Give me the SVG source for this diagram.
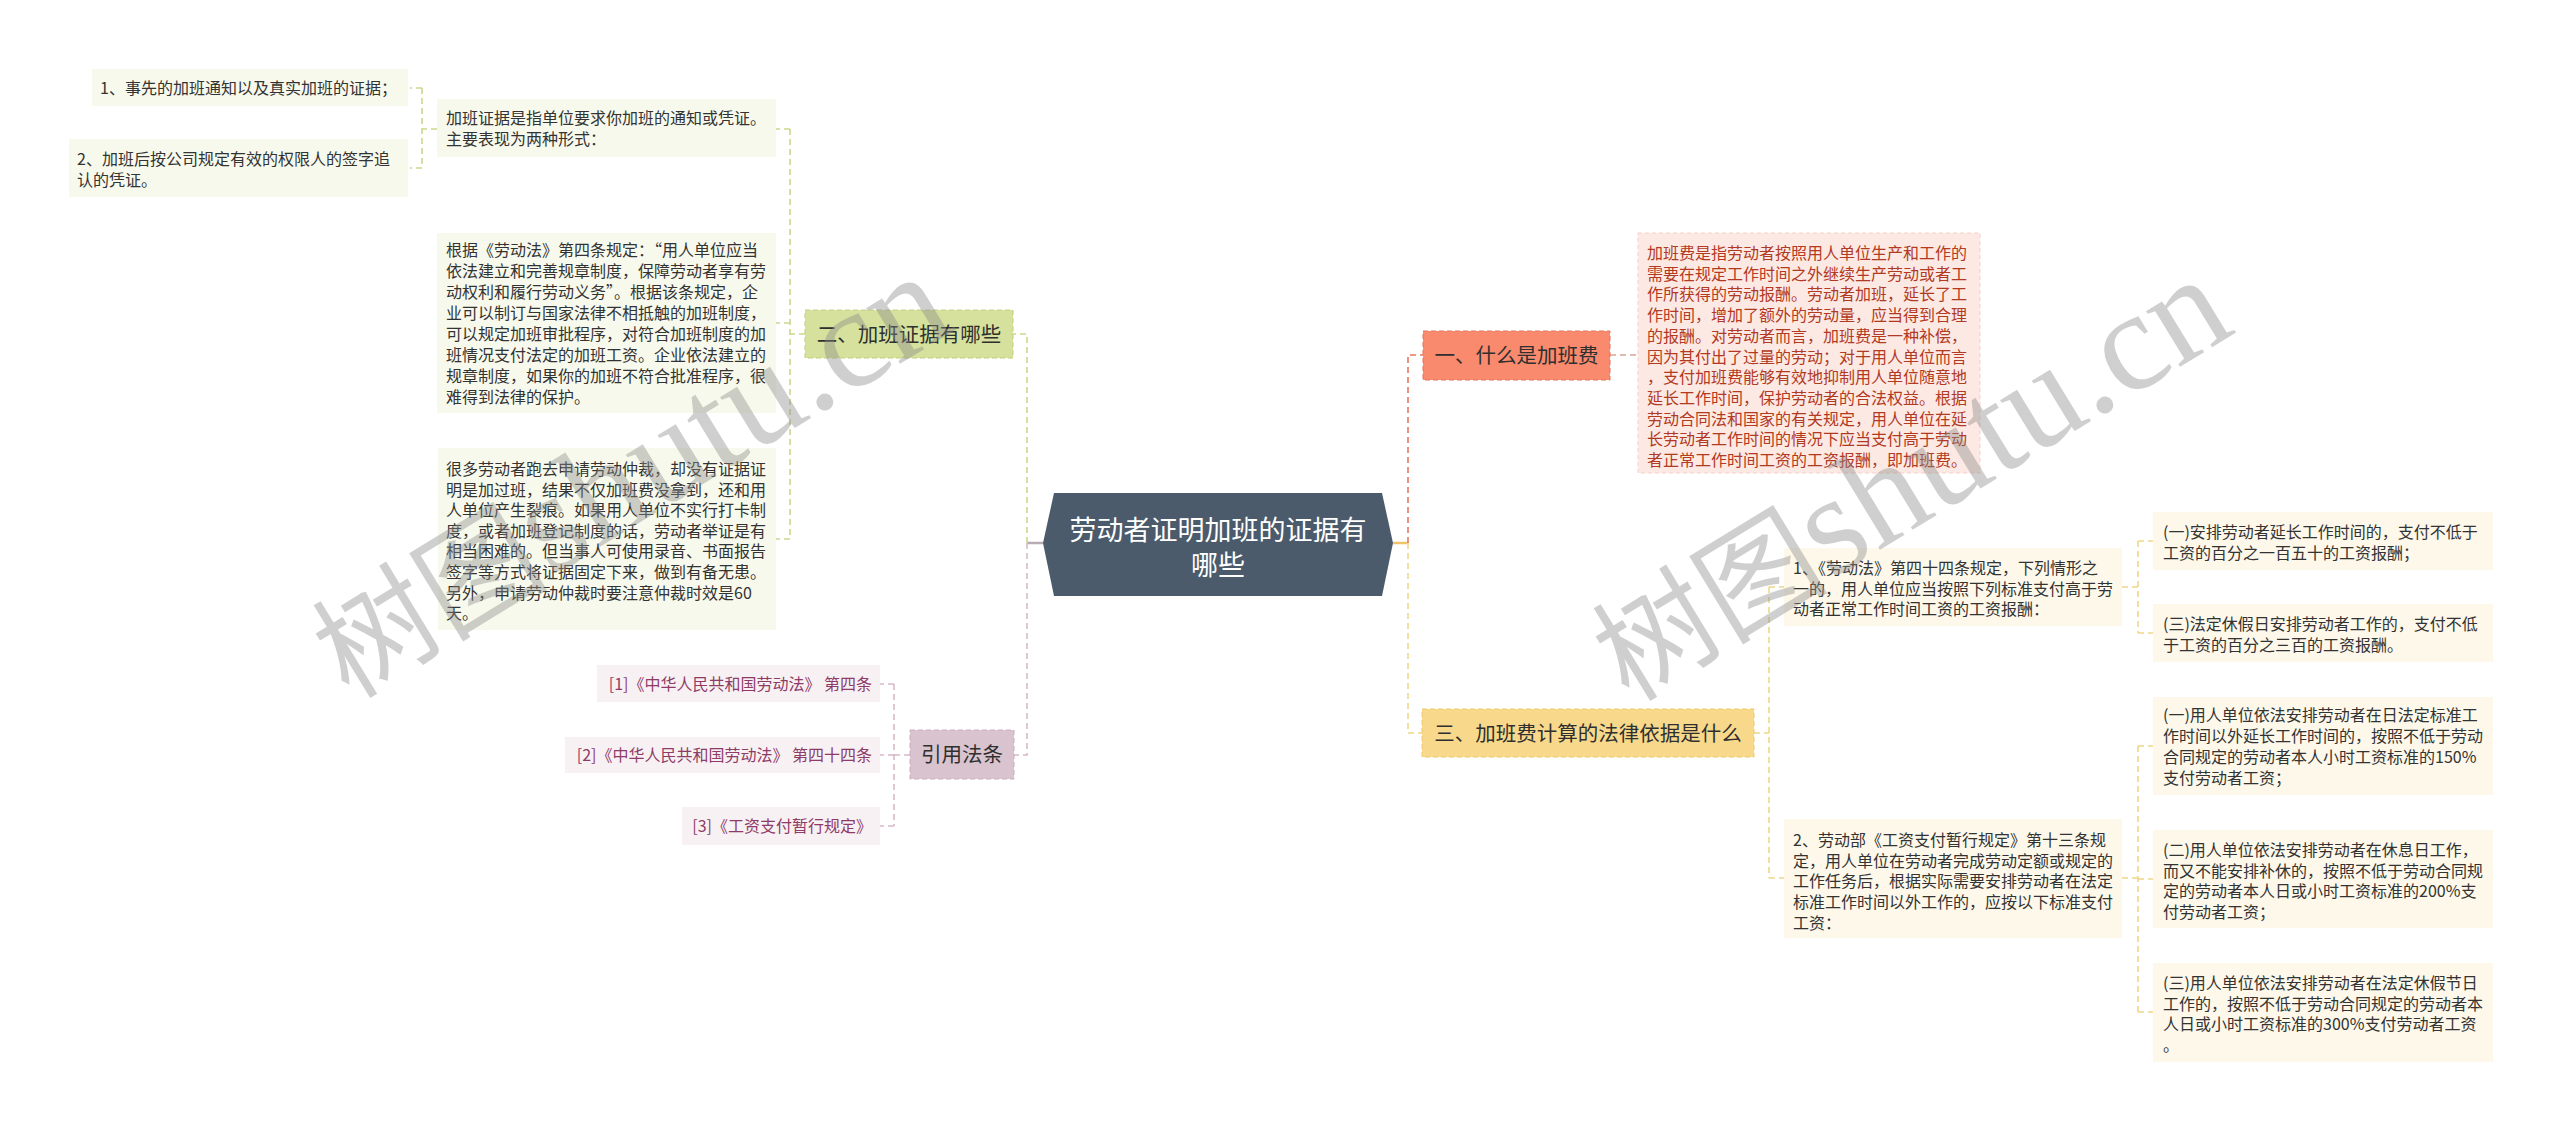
<svg xmlns="http://www.w3.org/2000/svg" width="2560" height="1131" viewBox="0 0 2560 1131">
<style>
.t{font-family:"Noto Sans CJK SC","Liberation Sans",sans-serif;font-size:16px;fill:#333333}
.lab{font-family:"Noto Sans CJK SC","Liberation Sans",sans-serif;font-size:20.5px;fill:#2f2f2f;text-anchor:middle}
.title{font-family:"Noto Sans CJK SC","Liberation Sans",sans-serif;font-size:27px;fill:#ffffff;text-anchor:middle}
.red{fill:#b23a22}
.ref{fill:#8e3b67;text-anchor:end}
.leafL{fill:#f7f9ec}
.leafR{fill:#fdf8ea}
.leafRef{fill:#f8f1f4}
.c{fill:none;stroke-width:1.6;stroke-dasharray:6 4}
.cg{stroke:#c9d98c}
.cp{stroke:#d8b9c9}
.cy{stroke:#eed889}
.cr{stroke:#e9775e}
.wm{font-family:"Noto Sans CJK SC",sans-serif;fill:#8a8a8a;opacity:0.4}
</style>

<g id="connectors">
  <path d="M1043,543 H1027" fill="none" stroke="#b8abb3" stroke-width="2.5"/>
  <path class="c cg" stroke-width="2" d="M1027,543 V334 H1013"/>
  <path class="c cp" stroke-width="2" d="M1027,543 V755 H1014"/>
  <path class="c cg" d="M805,334 H790 M790,129 V539 M790,129 H776 M790,323 H776 M790,539 H776"/>
  <path class="c cg" d="M437,129 H422 M422,88 V168 M422,88 H410 M422,168 H410"/>
  <path class="c cp" d="M910,755 H894 M894,684 V826 M894,684 H880 M894,755 H880 M894,826 H880"/>
  <path d="M1393,543 H1408" fill="none" stroke="#f0c36a" stroke-width="2.5"/>
  <path class="c cr" stroke-width="2" d="M1408,543 V355 H1423"/>
  <path class="c cy" stroke-width="2" d="M1408,543 V733 H1422"/>
  <path class="c" stroke="#d9a595" d="M1610,355 H1638"/>
  <path class="c cy" d="M1754,733 H1769 M1769,587 V878 M1769,587 H1784 M1769,878 H1784"/>
  <path class="c cy" d="M2122,587 H2138 M2138,541 V633 M2138,541 H2153 M2138,633 H2153"/>
  <path class="c cy" d="M2122,878 H2138 M2138,746 V1012 M2138,746 H2153 M2138,879 H2153 M2138,1012 H2153"/>
</g>

<g id="root">
  <polygon points="1043,543 1054,493 1382,493 1393,543 1382,596 1054,596" fill="#4b5b6b"/>
  <text class="title" x="1218" y="540">劳动者证明加班的证据有</text>
  <text class="title" x="1218" y="575">哪些</text>
</g>

<g id="branch-2">
  <rect x="805" y="310" width="208" height="48" fill="#d5e19c" stroke="#bfd17c" stroke-dasharray="5 3"/>
  <text class="lab" x="909" y="341.5">二、加班证据有哪些</text>
</g>
<g id="leaf-2-1">
  <rect class="leafL" x="437" y="99" width="339" height="58"/>
  <text class="t" x="446"><tspan x="446" y="124">加班证据是指单位要求你加班的通知或凭证。</tspan><tspan x="446" y="145">主要表现为两种形式：</tspan></text>
</g>
<g id="leaf-2-1-1">
  <rect class="leafL" x="92" y="69" width="316" height="37"/>
  <text class="t" x="100" y="93.5">1、事先的加班通知以及真实加班的证据；</text>
</g>
<g id="leaf-2-1-2">
  <rect class="leafL" x="69" y="139" width="339" height="58"/>
  <text class="t"><tspan x="77" y="165">2、加班后按公司规定有效的权限人的签字追</tspan><tspan x="77" y="186">认的凭证。</tspan></text>
</g>
<g id="leaf-2-2">
  <rect class="leafL" x="437" y="233" width="339" height="180"/>
  <text class="t"><tspan x="446" y="256">根据《劳动法》第四条规定：“用人单位应当</tspan><tspan x="446" y="277">依法建立和完善规章制度，保障劳动者享有劳</tspan><tspan x="446" y="298">动权利和履行劳动义务”。根据该条规定，企</tspan><tspan x="446" y="319">业可以制订与国家法律不相抵触的加班制度，</tspan><tspan x="446" y="340">可以规定加班审批程序，对符合加班制度的加</tspan><tspan x="446" y="361">班情况支付法定的加班工资。企业依法建立的</tspan><tspan x="446" y="382">规章制度，如果你的加班不符合批准程序，很</tspan><tspan x="446" y="403">难得到法律的保护。</tspan></text>
</g>
<g id="leaf-2-3">
  <rect class="leafL" x="438" y="448" width="338" height="182"/>
  <text class="t"><tspan x="446" y="475">很多劳动者跑去申请劳动仲裁，却没有证据证</tspan><tspan x="446" y="495.6">明是加过班，结果不仅加班费没拿到，还和用</tspan><tspan x="446" y="516.2">人单位产生裂痕。如果用人单位不实行打卡制</tspan><tspan x="446" y="536.8">度，或者加班登记制度的话，劳动者举证是有</tspan><tspan x="446" y="557.4">相当困难的。但当事人可使用录音、书面报告</tspan><tspan x="446" y="578">签字等方式将证据固定下来，做到有备无患。</tspan><tspan x="446" y="598.6">另外，申请劳动仲裁时要注意仲裁时效是60</tspan><tspan x="446" y="619.2">天。</tspan></text>
</g>

<g id="branch-ref">
  <rect x="910" y="730" width="104" height="49" fill="#d9c3cf" stroke="#c9adbd" stroke-dasharray="5 3"/>
  <text class="lab" x="962" y="762">引用法条</text>
</g>
<g id="ref-1">
  <rect class="leafRef" x="597" y="665" width="283" height="37"/>
  <text class="t ref" x="872" y="689.5">[1]《中华人民共和国劳动法》 第四条</text>
</g>
<g id="ref-2">
  <rect class="leafRef" x="565" y="737" width="315" height="36"/>
  <text class="t ref" x="872" y="761">[2]《中华人民共和国劳动法》 第四十四条</text>
</g>
<g id="ref-3">
  <rect class="leafRef" x="682" y="807" width="198" height="38"/>
  <text class="t ref" x="872" y="832">[3]《工资支付暂行规定》</text>
</g>

<g id="branch-1">
  <rect x="1423" y="331" width="187" height="49" fill="#f98a6e" stroke="#e8735a" stroke-dasharray="5 3"/>
  <text class="lab" x="1516.5" y="363">一、什么是加班费</text>
</g>
<g id="leaf-1-1">
  <rect x="1638" y="233" width="342" height="240" fill="#fde9e4" stroke="#f5cfc5" stroke-dasharray="4 3"/>
  <text class="t red"><tspan x="1647" y="259">加班费是指劳动者按照用人单位生产和工作的</tspan><tspan x="1647" y="279.7">需要在规定工作时间之外继续生产劳动或者工</tspan><tspan x="1647" y="300.4">作所获得的劳动报酬。劳动者加班，延长了工</tspan><tspan x="1647" y="321.1">作时间，增加了额外的劳动量，应当得到合理</tspan><tspan x="1647" y="341.8">的报酬。对劳动者而言，加班费是一种补偿，</tspan><tspan x="1647" y="362.5">因为其付出了过量的劳动；对于用人单位而言</tspan><tspan x="1647" y="383.2">，支付加班费能够有效地抑制用人单位随意地</tspan><tspan x="1647" y="403.9">延长工作时间，保护劳动者的合法权益。根据</tspan><tspan x="1647" y="424.6">劳动合同法和国家的有关规定，用人单位在延</tspan><tspan x="1647" y="445.3">长劳动者工作时间的情况下应当支付高于劳动</tspan><tspan x="1647" y="466">者正常工作时间工资的工资报酬，即加班费。</tspan></text>
</g>

<g id="branch-3">
  <rect x="1422" y="709" width="332" height="48" fill="#f8d98b" stroke="#efc866" stroke-dasharray="5 3"/>
  <text class="lab" x="1588" y="740.5">三、加班费计算的法律依据是什么</text>
</g>
<g id="leaf-3-1">
  <rect class="leafR" x="1784" y="548" width="338" height="78"/>
  <text class="t"><tspan x="1793" y="574">1、《劳动法》第四十四条规定，下列情形之</tspan><tspan x="1793" y="594.7">一的，用人单位应当按照下列标准支付高于劳</tspan><tspan x="1793" y="615.4">动者正常工作时间工资的工资报酬：</tspan></text>
</g>
<g id="leaf-3-1-1">
  <rect class="leafR" x="2153" y="512" width="340" height="58"/>
  <text class="t"><tspan x="2163" y="538">(一)安排劳动者延长工作时间的，支付不低于</tspan><tspan x="2163" y="559">工资的百分之一百五十的工资报酬；</tspan></text>
</g>
<g id="leaf-3-1-2">
  <rect class="leafR" x="2153" y="604" width="340" height="58"/>
  <text class="t"><tspan x="2163" y="630">(三)法定休假日安排劳动者工作的，支付不低</tspan><tspan x="2163" y="651">于工资的百分之三百的工资报酬。</tspan></text>
</g>
<g id="leaf-3-2">
  <rect class="leafR" x="1784" y="819" width="338" height="119"/>
  <text class="t"><tspan x="1793" y="846">2、劳动部《工资支付暂行规定》第十三条规</tspan><tspan x="1793" y="866.7">定，用人单位在劳动者完成劳动定额或规定的</tspan><tspan x="1793" y="887.4">工作任务后，根据实际需要安排劳动者在法定</tspan><tspan x="1793" y="908.1">标准工作时间以外工作的，应按以下标准支付</tspan><tspan x="1793" y="928.8">工资：</tspan></text>
</g>
<g id="leaf-3-2-1">
  <rect class="leafR" x="2153" y="697" width="340" height="98"/>
  <text class="t"><tspan x="2163" y="721">(一)用人单位依法安排劳动者在日法定标准工</tspan><tspan x="2163" y="742">作时间以外延长工作时间的，按照不低于劳动</tspan><tspan x="2163" y="763">合同规定的劳动者本人小时工资标准的150%</tspan><tspan x="2163" y="784">支付劳动者工资；</tspan></text>
</g>
<g id="leaf-3-2-2">
  <rect class="leafR" x="2153" y="830" width="340" height="98"/>
  <text class="t"><tspan x="2163" y="856">(二)用人单位依法安排劳动者在休息日工作，</tspan><tspan x="2163" y="876.7">而又不能安排补休的，按照不低于劳动合同规</tspan><tspan x="2163" y="897.4">定的劳动者本人日或小时工资标准的200%支</tspan><tspan x="2163" y="918.1">付劳动者工资；</tspan></text>
</g>
<g id="leaf-3-2-3">
  <rect class="leafR" x="2153" y="963" width="340" height="99"/>
  <text class="t"><tspan x="2163" y="989">(三)用人单位依法安排劳动者在法定休假节日</tspan><tspan x="2163" y="1009.7">工作的，按照不低于劳动合同规定的劳动者本</tspan><tspan x="2163" y="1030.4">人日或小时工资标准的300%支付劳动者工资</tspan><tspan x="2163" y="1051.1">。</tspan></text>
</g>

<g id="watermarks">
  <text class="wm" transform="translate(349,700) rotate(-31.4)"><tspan font-size="118">树图</tspan><tspan font-size="142" font-family="Liberation Serif,serif">shutu.cn</tspan></text>
  <text class="wm" transform="translate(1629,703) rotate(-31.4)"><tspan font-size="118">树图</tspan><tspan font-size="142" font-family="Liberation Serif,serif">shutu.cn</tspan></text>
</g>
</svg>
